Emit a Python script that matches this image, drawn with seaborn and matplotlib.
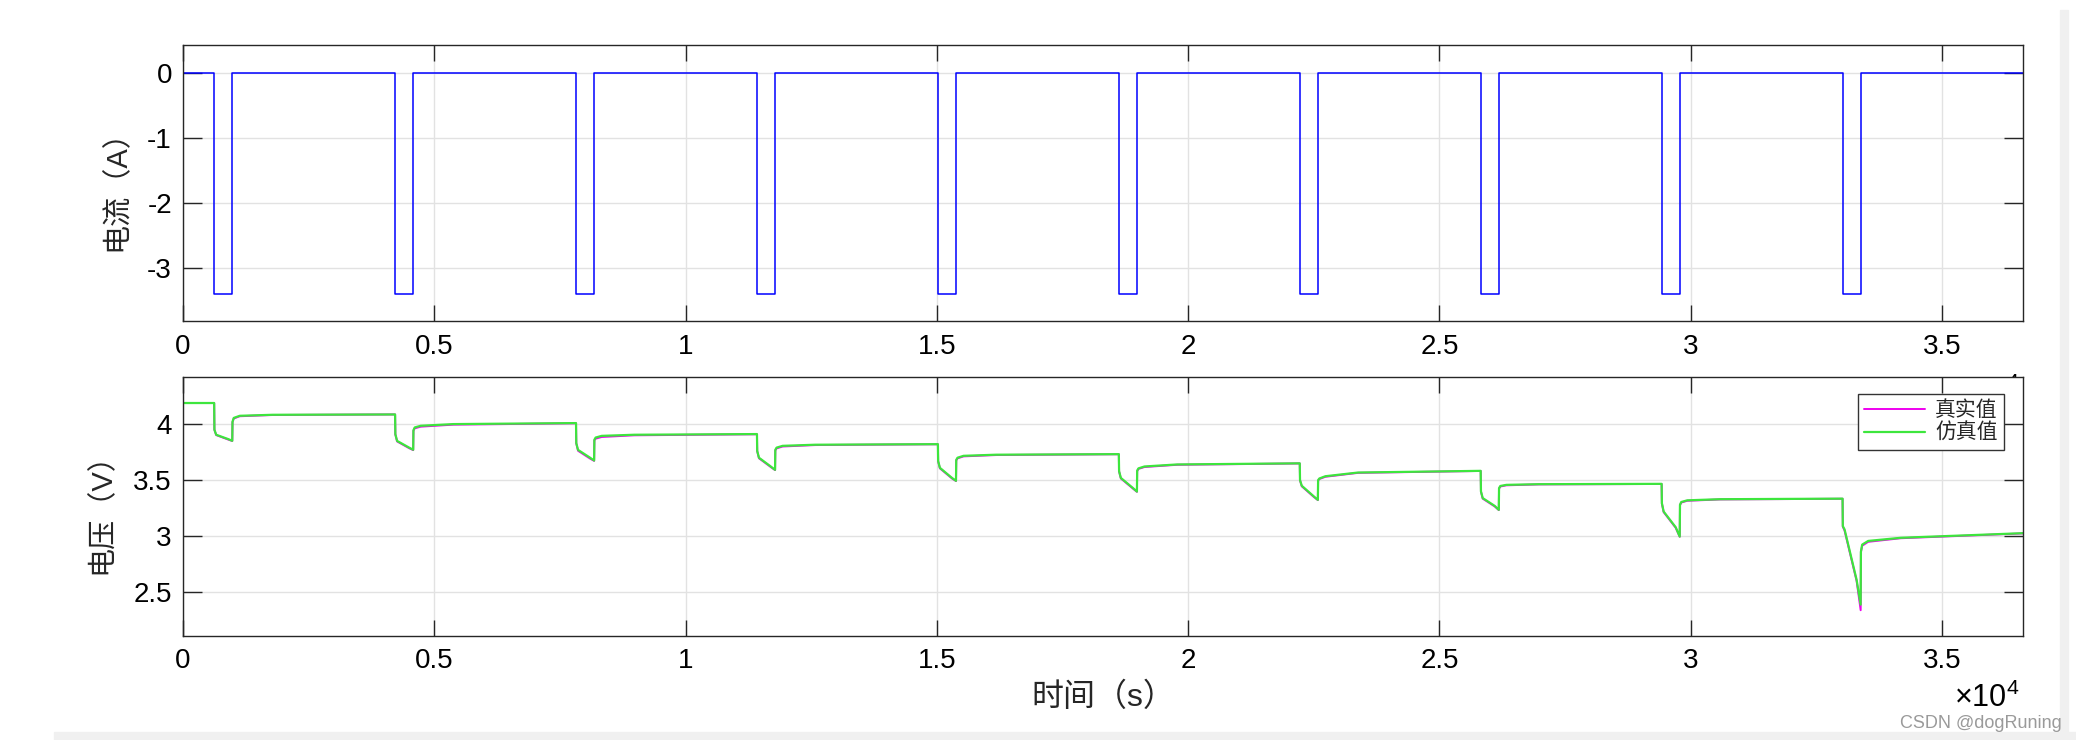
import matplotlib
matplotlib.use("Agg")
import matplotlib.pyplot as plt
import matplotlib.transforms as mtransforms
from matplotlib.ticker import FuncFormatter, MultipleLocator, FixedLocator
import pandas as pd
import seaborn as sns

# ---------------- data ----------------
pulse_start = [620, 4220, 7820, 11420, 15020, 18620, 22220, 25820, 29420, 33020]
pulse_len = 360
i_rest = 0.0
i_pulse = -3.4
t_max = 36610

# voltage sampling offsets (s) after pulse start / after pulse end
dis_offsets = [5, 40, 280, 360]
rec_offsets = [5, 30, 150, 800]

# rest voltage just before each pulse (first one = initial voltage)
v_rest_sim = [4.188, 4.086, 4.009, 3.911, 3.821, 3.732, 3.650, 3.583, 3.467, 3.335]
v_rest_real = [4.188, 4.086, 4.007, 3.909, 3.820, 3.731, 3.649, 3.582, 3.466, 3.334]
v_final_sim = 3.027
v_final_real = 3.025

dis_sim = [
    [3.950, 3.905, 3.866, 3.851],
    [3.910, 3.850, 3.790, 3.771],
    [3.830, 3.770, 3.700, 3.675],
    [3.760, 3.700, 3.620, 3.592],
    [3.670, 3.610, 3.520, 3.494],
    [3.580, 3.520, 3.430, 3.398],
    [3.500, 3.450, 3.355, 3.324],
    [3.400, 3.340, 3.270, 3.235],
    [3.294, 3.220, 3.080, 2.997],
    [3.090, 3.060, 2.610, 2.390],
]
dis_real = [
    [3.950, 3.902, 3.862, 3.849],
    [3.908, 3.845, 3.785, 3.768],
    [3.828, 3.762, 3.692, 3.672],
    [3.758, 3.695, 3.615, 3.590],
    [3.668, 3.605, 3.515, 3.492],
    [3.578, 3.515, 3.425, 3.396],
    [3.498, 3.445, 3.350, 3.322],
    [3.398, 3.335, 3.265, 3.233],
    [3.292, 3.215, 3.075, 2.995],
    [3.085, 3.050, 2.600, 2.340],
]
rec_sim = [
    [4.020, 4.055, 4.074, 4.083],
    [3.945, 3.970, 3.985, 4.000],
    [3.860, 3.880, 3.895, 3.905],
    [3.770, 3.790, 3.806, 3.816],
    [3.680, 3.700, 3.717, 3.727],
    [3.585, 3.605, 3.622, 3.640],
    [3.500, 3.515, 3.535, 3.568],
    [3.428, 3.448, 3.458, 3.464],
    [3.280, 3.305, 3.320, 3.330],
    [2.862, 2.925, 2.958, 2.986],
]
rec_real = [
    [4.018, 4.050, 4.070, 4.081],
    [3.940, 3.962, 3.977, 3.995],
    [3.855, 3.870, 3.885, 3.900],
    [3.765, 3.783, 3.800, 3.813],
    [3.676, 3.694, 3.712, 3.724],
    [3.580, 3.600, 3.617, 3.637],
    [3.496, 3.510, 3.530, 3.565],
    [3.424, 3.443, 3.454, 3.462],
    [3.276, 3.300, 3.316, 3.328],
    [2.858, 2.915, 2.950, 2.982],
]

labels = ["真实值", "仿真值"]
ylabel_top = "电流（A）"
ylabel_bot = "电压（V）"
xlabel = "时间（s）"


# ---------------- build tables ----------------
def build_current():
    t, i = [0.0], [i_rest]
    for s in pulse_start:
        e = s + pulse_len
        t += [s, s, e, e]
        i += [i_rest, i_pulse, i_pulse, i_rest]
    t.append(t_max)
    i.append(i_rest)
    return pd.DataFrame({"t": t, "i": i})


def build_voltage(v_rest, dis, rec, v_final):
    t, v = [0.0], [v_rest[0]]
    for k, s in enumerate(pulse_start):
        t.append(s)
        v.append(v_rest[k])
        for off, val in zip(dis_offsets, dis[k]):
            t.append(s + off)
            v.append(val)
        e = s + pulse_len
        for off, val in zip(rec_offsets, rec[k]):
            t.append(e + off)
            v.append(val)
    t.append(t_max)
    v.append(v_final)
    return pd.DataFrame({"t": t, "v": v})


df_i = build_current()
df_real = build_voltage(v_rest_real, dis_real, rec_real, v_final_real)
df_sim = build_voltage(v_rest_sim, dis_sim, rec_sim, v_final_sim)

# ---------------- style ----------------
sns.set_theme(style="white")
plt.rcParams["font.family"] = ["Liberation Sans", "Noto Sans CJK SC"]
plt.rcParams["mathtext.fontset"] = "custom"
plt.rcParams["mathtext.rm"] = "Liberation Sans"
plt.rcParams["axes.unicode_minus"] = False

W, H = 2076, 740
fig = plt.figure(figsize=(W / 100, H / 100), dpi=100)
fig.patch.set_facecolor("white")

ax1 = fig.add_axes([183 / W, 1 - 321 / H, 1840 / W, 276 / H])
ax2 = fig.add_axes([183 / W, 1 - 636 / H, 1840 / W, 259 / H])

sns.lineplot(data=df_i, x="t", y="i", ax=ax1, sort=False, estimator=None,
             color="#0000ff", linewidth=1.1)
sns.lineplot(data=df_real, x="t", y="v", ax=ax2, sort=False, estimator=None,
             color="#ee00ee", linewidth=1.4, label=labels[0])
sns.lineplot(data=df_sim, x="t", y="v", ax=ax2, sort=False, estimator=None,
             color="#3de63d", linewidth=1.6, label=labels[1])

fmt = FuncFormatter(lambda x, p: f"{x / 1e4:g}")
for ax, dy in ((ax1, -56), (ax2, -47)):
    ax.set_xlim(0, t_max)
    ax.xaxis.set_major_locator(MultipleLocator(5000))
    ax.xaxis.set_major_formatter(fmt)
    ax.grid(True, color="#e2e2e2", linewidth=1.0)
    ax.set_axisbelow(True)
    for sp in ax.spines.values():
        sp.set_color("#262626")
        sp.set_linewidth(1.0)
        sp.set_visible(True)
    ax.tick_params(axis="x", direction="in", top=True, bottom=True,
                   length=11.5, width=1, color="#262626", labelsize=20,
                   pad=9, labelcolor="black")
    ax.tick_params(axis="y", direction="in", left=True, right=True,
                   length=13.5, width=1, color="#262626", labelsize=20,
                   pad=8, labelcolor="black")
    ax.set_xlabel("")
    ax.set_ylabel("")
    off = mtransforms.offset_copy(ax.transAxes, fig=fig, x=-4, y=dy, units="dots")
    ax.text(1.0, 0.0, r"$\times\mathregular{10^{4}}$", transform=off,
            ha="right", va="top", fontsize=22, color="black", zorder=0)

ax1.set_ylim(-3.82, 0.43)
ax1.yaxis.set_major_locator(FixedLocator([-3, -2, -1, 0]))
ax2.set_ylim(2.11, 4.42)
ax2.yaxis.set_major_locator(FixedLocator([2.5, 3, 3.5, 4]))
ax2.yaxis.set_major_formatter(FuncFormatter(lambda y, p: f"{y:g}"))
ax1.yaxis.set_major_formatter(FuncFormatter(lambda y, p: f"{y:g}"))

ax1.set_ylabel(ylabel_top, fontsize=21)
ax1.yaxis.set_label_coords(-0.0283, 0.5)
ax2.set_ylabel(ylabel_bot, fontsize=21)
ax2.yaxis.set_label_coords(-0.0364, 0.5)
ax2.set_xlabel(xlabel, fontsize=23)
ax2.xaxis.set_label_coords(0.5, -0.18)

leg = ax2.legend(loc="upper right", bbox_to_anchor=(0.9897, 0.934),
                 borderaxespad=0, frameon=True, fancybox=False, framealpha=1,
                 edgecolor="#333333", fontsize=15, handlelength=2.9,
                 labelspacing=0.15, borderpad=0.3, handletextpad=0.5)
leg.get_frame().set_linewidth(1.0)

# screenshot frame remnants and watermark
fig.add_artist(plt.Rectangle((54 / W, 0), 1 - 54 / W, 8 / H,
                             transform=fig.transFigure, color="#f0f0f0", zorder=0))
fig.add_artist(plt.Rectangle((2060 / W, 8 / H), 8 / W, (732 - 10) / H,
                             transform=fig.transFigure, color="#f0f0f0", zorder=0))
fig.text(2062 / W, 1 - 724 / H, "CSDN @dogRuning", ha="right", va="center",
         fontsize=13, color="#9a9a9a")

fig.savefig("out.png", dpi=100)
